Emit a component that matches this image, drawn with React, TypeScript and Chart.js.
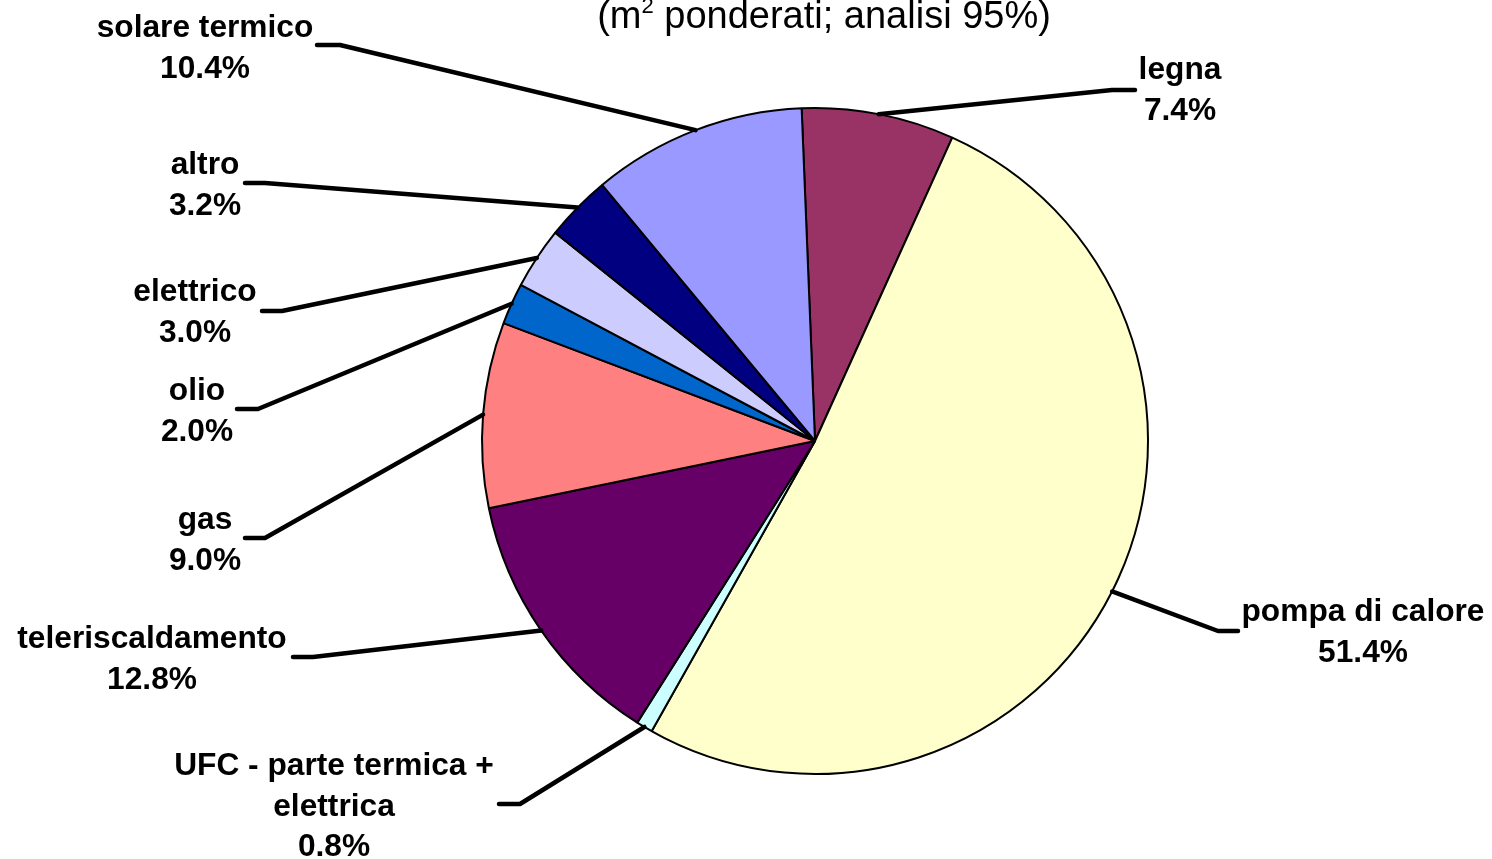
import React, { useEffect, useRef } from 'react';
import { Chart, registerables } from 'chart.js';

Chart.register(...registerables);

// ---- data ----
const categories = [
  'legna',
  'pompa di calore',
  'UFC - parte termica + elettrica',
  'teleriscaldamento',
  'gas',
  'olio',
  'elettrico',
  'altro',
  'solare termico',
];
const shares = [7.4, 51.4, 0.8, 12.8, 9.0, 2.0, 3.0, 3.2, 10.4];
const titlePre = '(m';
const titleSup = '2';
const titlePost = ' ponderati; analisi 95%)';

// ---- styles / layout ----
const sliceColors = ['#993366', '#FFFFCC', '#CCFFFF', '#660066', '#FF8080', '#0066CC', '#CCCCFF', '#000080', '#9999FF'];
// label text centre x, first-line baseline y, horizontal leader segment (outer end x, elbow x, y)
const labelTextX = [1180, 1363, 334, 152, 205, 197, 195, 205, 205];
const labelBaseY = [79, 621, 775, 648, 529, 400, 301, 174, 37];
const leaderOuterX = [1135, 1238, 499, 293, 245, 237, 262, 245, 317];
const leaderElbowX = [1112, 1218, 520, 313, 265, 258, 282, 265, 340];
const leaderY = [90, 631, 804, 657, 538, 409, 311, 183, 45];

const LABEL_FONT = 'bold 31.7px "Liberation Sans", Arial, sans-serif';
const LINE_H = 40.5;

function wrap(ctx: CanvasRenderingContext2D, text: string, maxW: number): string[] {
  const words = text.split(' ');
  const lines: string[] = [];
  let cur = '';
  for (const w of words) {
    const test = cur ? cur + ' ' + w : w;
    if (ctx.measureText(test).width > maxW && cur) {
      lines.push(cur);
      cur = w;
    } else cur = test;
  }
  if (cur) lines.push(cur);
  return lines;
}

const labelPlugin = {
  id: 'leaderLabels',
  afterDatasetsDraw(chart: any) {
    const ctx: CanvasRenderingContext2D = chart.ctx;
    const meta = chart.getDatasetMeta(0);
    ctx.save();
    // leader lines
    ctx.strokeStyle = '#000';
    ctx.lineWidth = 4.5;
    ctx.lineCap = 'round';
    ctx.lineJoin = 'round';
    meta.data.forEach((arc: any, i: number) => {
      const p = arc.getProps(['x', 'y', 'startAngle', 'endAngle', 'outerRadius'], true);
      const mid = (p.startAngle + p.endAngle) / 2;
      const sx = p.x + Math.cos(mid) * p.outerRadius;
      const sy = p.y + Math.sin(mid) * p.outerRadius;
      ctx.beginPath();
      ctx.moveTo(sx, sy);
      ctx.lineTo(leaderElbowX[i], leaderY[i]);
      ctx.lineTo(leaderOuterX[i], leaderY[i]);
      ctx.stroke();
    });
    // labels
    ctx.fillStyle = '#000';
    ctx.font = LABEL_FONT;
    ctx.textAlign = 'center';
    ctx.textBaseline = 'alphabetic';
    categories.forEach((name, i) => {
      const lines = wrap(ctx, name, 340);
      lines.push(shares[i].toFixed(1) + '%');
      lines.forEach((ln, k) => {
        ctx.fillText(ln, labelTextX[i], labelBaseY[i] + k * LINE_H);
      });
    });
    // title
    ctx.textAlign = 'left';
    const mainFont = '38px "Liberation Sans", Arial, sans-serif';
    const supFont = '22px "Liberation Sans", Arial, sans-serif';
    ctx.font = mainFont;
    const w1 = ctx.measureText(titlePre).width;
    const w3 = ctx.measureText(titlePost).width;
    ctx.font = supFont;
    const w2 = ctx.measureText(titleSup).width;
    const total = w1 + w2 + w3;
    let x = 824 - total / 2;
    const base = 28;
    ctx.font = mainFont;
    ctx.fillText(titlePre, x, base);
    x += w1;
    ctx.font = supFont;
    ctx.fillText(titleSup, x, base - 15);
    x += w2;
    ctx.font = mainFont;
    ctx.fillText(titlePost, x, base);
    ctx.restore();
  },
};

export default function App() {
  const ref = useRef<HTMLCanvasElement | null>(null);
  useEffect(() => {
    if (!ref.current) return;
    const chart = new Chart(ref.current, {
      type: 'pie',
      data: {
        labels: categories,
        datasets: [
          {
            data: shares,
            backgroundColor: sliceColors,
            borderColor: '#000',
            borderWidth: 2,
            hoverOffset: 0,
          },
        ],
      },
      options: {
        responsive: false,
        devicePixelRatio: 1,
        animation: false,
        rotation: -2.3,
        radius: 333,
        layout: { padding: { left: 138, right: 0, top: 23, bottom: 0 } },
        plugins: {
          legend: { display: false },
          tooltip: { enabled: false },
          title: { display: false },
        },
        events: [],
      } as any,
      plugins: [labelPlugin],
    });
    return () => chart.destroy();
  }, []);
  return (
    <div style={{ position: 'fixed', left: 0, top: 0, width: 1492, height: 859, background: '#fff' }}>
      <canvas ref={ref} width={1492} height={859} style={{ display: 'block' }} />
    </div>
  );
}
